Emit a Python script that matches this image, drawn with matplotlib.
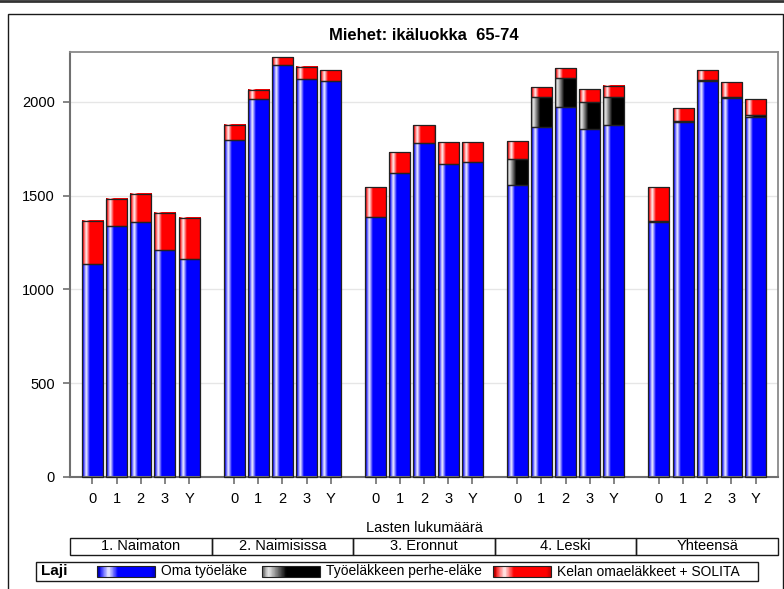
import numpy as np
import matplotlib.pyplot as plt
from matplotlib.patches import Rectangle
from matplotlib.lines import Line2D
from matplotlib.colors import to_rgb

# ==========================================================
# DATA
# ==========================================================

GROUPS = ["1. Naimaton", "2. Naimisissa", "3. Eronnut", "4. Leski", "Yhteensä"]
KIDS = ["0", "1", "2", "3", "Y"]

# Oma työeläke
OMA = [
    [1134, 1336, 1359, 1211, 1160],
    [1795, 2013, 2198, 2121, 2111],
    [1388, 1619, 1781, 1669, 1680],
    [1557, 1865, 1973, 1856, 1874],
    [1360, 1891, 2109, 2018, 1920],
]

# Työeläkkeen perhe-eläke
PERHE = [
    [0, 0, 0, 0, 0],
    [0, 0, 0, 0, 0],
    [0, 0, 0, 0, 0],
    [140, 159, 155, 142, 150],
    [6, 8, 8, 9, 9],
]

# Kelan omaeläkkeet + SOLITA
KELA = [
    [230, 148, 150, 198, 220],
    [82, 51, 42, 66, 57],
    [156, 111, 95, 117, 106],
    [95, 53, 52, 68, 62],
    [177, 67, 52, 76, 84],
]

SERIES = ["Oma työeläke", "Työeläkkeen perhe-eläke", "Kelan omaeläkkeet + SOLITA"]
COLORS = ["#0000ff", "#000000", "#ff0000"]

# ==========================================================
# STYLE / LAYOUT
# ==========================================================

plt.rcParams["font.family"] = "Liberation Sans"
plt.rcParams["font.size"] = 10.5

W, H = 784, 589
PITCH = 5.86
BAR_W = 0.87


def fx(px):
    return px / W


def fy(py):
    return 1 - py / H


def shade(color, n=40):
    base = np.array(to_rgb(color))
    t = (np.arange(n) + 0.5) / n
    if color == "#000000":
        light = np.clip(1 - np.abs(t - 0.12) / 0.3, 0, 1) * 0.9
    else:
        light = np.clip(1 - np.abs(t - 0.2) / 0.16, 0, 1) * 0.95
    dark = np.clip(1 - t / 0.08, 0, 1) * 0.4 + np.clip((t - 0.92) / 0.08, 0, 1) * 0.25
    rgb = base[None, :] * (1 - light[:, None]) + light[:, None]
    rgb = rgb * (1 - dark[:, None])
    return rgb[None, :, :]


def shaded_rect(ax, x0, x1, y0, y1, color, lw=0.9):
    ax.imshow(shade(color), extent=[x0, x1, y0, y1], aspect="auto",
              interpolation="antialiased", zorder=2)
    ax.add_patch(Rectangle((x0, y0), x1 - x0, y1 - y0, fill=False,
                           edgecolor="#222222", linewidth=lw, zorder=3,
                           clip_on=False))


fig = plt.figure(figsize=(W / 100, H / 100), dpi=100)

ax = fig.add_axes([fx(70), fy(477), fx(778) - fx(70), fy(52) - fy(477)])

# ==========================================================
# DRAW BARS
# ==========================================================

xticks = []
xlabels = []
for g in range(len(GROUPS)):
    for i in range(len(KIDS)):
        x = g * PITCH + i
        xticks.append(x)
        xlabels.append(KIDS[i])
        bottom = 0
        for vals, col in zip([OMA, PERHE, KELA], COLORS):
            h = vals[g][i]
            if h > 0:
                shaded_rect(ax, x - BAR_W / 2, x + BAR_W / 2, bottom, bottom + h, col)
            bottom += h

# ==========================================================
# AXES SETTINGS
# ==========================================================

x_lo = -0.93
x_hi = (len(GROUPS) - 1) * PITCH + 4.93
ax.set_xlim(x_lo, x_hi)
ax.set_ylim(0, 2265)
ax.set_yticks([0, 500, 1000, 1500, 2000])
ax.set_xticks(xticks)
ax.set_xticklabels(xlabels)
ax.yaxis.grid(True, color="#e6e6e6", linewidth=1)
ax.set_axisbelow(True)

for side in ["left", "bottom"]:
    ax.spines[side].set_color("#707070")
    ax.spines[side].set_linewidth(1.5)
for side in ["top", "right"]:
    ax.spines[side].set_color("#8a8a8a")
    ax.spines[side].set_linewidth(1.3)

ax.tick_params(direction="out", length=5, width=1.2, color="#707070",
               labelsize=10.5, pad=6)

ax.set_title("Miehet: ikäluokka  65-74", fontsize=12, fontweight="bold", pad=9)

fig.text(fx(424), fy(528), "Lasten lukumäärä", ha="center", va="center",
         fontsize=10.5)

# ==========================================================
# PANEL STRIP
# ==========================================================

sax = fig.add_axes([fx(70), fy(555), fx(778) - fx(70), fy(538) - fy(555)])
sax.set_xlim(x_lo, x_hi)
sax.set_ylim(0, 1)
sax.axis("off")
for g, name in enumerate(GROUPS):
    sax.add_patch(Rectangle((g * PITCH + x_lo, 0), PITCH, 1, fill=False,
                            edgecolor="#1a1a1a", linewidth=1, clip_on=False))
    sax.text(g * PITCH + 2, 0.5, name, ha="center", va="center", fontsize=10.5)

# ==========================================================
# LEGEND
# ==========================================================

LEG_L, LEG_R = 36, 758
lax = fig.add_axes([fx(LEG_L), fy(581), fx(LEG_R) - fx(LEG_L), fy(562) - fy(581)])
lax.set_xlim(LEG_L, LEG_R)
lax.set_ylim(0, 1)
lax.axis("off")
lax.add_patch(Rectangle((LEG_L, 0), LEG_R - LEG_L, 1, fill=False,
                        edgecolor="#1a1a1a", linewidth=1, clip_on=False))
lax.text(41, 0.5, "Laji", ha="left", va="center", fontsize=11,
         fontweight="bold")
for sx, name, col in zip([97, 262, 493], SERIES, COLORS):
    shaded_rect(lax, sx, sx + 58, 0.22, 0.78, col, lw=0.8)
    lax.text(sx + 64, 0.5, name, ha="left", va="center", fontsize=10)
lax.set_xlim(LEG_L, LEG_R)
lax.set_ylim(0, 1)

# ==========================================================
# FRAME
# ==========================================================

fig.add_artist(Rectangle((fx(8), fy(620)), fx(783) - fx(8), fy(14) - fy(620),
                         transform=fig.transFigure, fill=False,
                         edgecolor="#1a1a1a", linewidth=1))
fig.add_artist(Line2D([0, 1], [fy(1), fy(1)], transform=fig.transFigure,
                      color="#333333", linewidth=2))

# ==========================================================
# SAVE
# ==========================================================

fig.savefig("out.png", dpi=100)
